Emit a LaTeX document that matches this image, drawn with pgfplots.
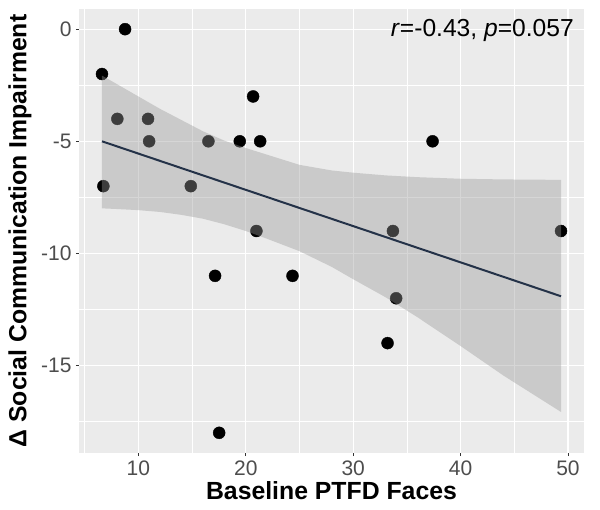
\documentclass[border=0pt]{standalone}
\usepackage{fontspec}
\setmainfont{Liberation Sans}
\usepackage{pgfplots}
\pgfplotsset{compat=1.18}

\definecolor{panelbg}{HTML}{EBEBEB}
\definecolor{tickgrey}{HTML}{333333}
\definecolor{labgrey}{HTML}{4D4D4D}
\definecolor{fitline}{HTML}{243248}

\begin{document}
\begin{tikzpicture}
\useasboundingbox (-79pt,-56pt) rectangle (521pt,453pt);
\begin{axis}[
  scale only axis,
  width=505pt, height=444pt,
  xmin=4.47, xmax=51.49,
  ymin=-18.9, ymax=0.9,
  axis background/.style={fill=panelbg},
  axis line style={draw=none},
  xtick={10,20,30,40,50},
  ytick={-15,-10,-5,0},
  minor xtick={5,15,25,35,45},
  minor ytick={-17.5,-12.5,-7.5,-2.5},
  grid=both,
  major grid style={white, line width=1.1pt},
  minor grid style={white, line width=0.55pt},
  xtick pos=bottom, ytick pos=left,
  tick align=outside,
  major tick length=3pt, minor tick length=0pt,
  tick style={tickgrey, line width=0.6pt},
  /pgf/number format/assume math mode=true,
  ticklabel style={font=\fontsize{21}{24}\selectfont, text=labgrey},
  xticklabel style={yshift=-1pt},
  yticklabel style={xshift=-1pt},
  xlabel={Baseline PTFD Faces},
  ylabel={Δ Social Communication Impairment},
  every axis x label/.style={at={(axis description cs:0.5,0)}, yshift=-38pt,
    anchor=center, font=\fontsize{24.8}{28}\selectfont\bfseries},
  every axis y label/.style={at={(axis description cs:0,0.5)}, xshift=-59pt,
    rotate=90, anchor=center, font=\fontsize{24.8}{28}\selectfont\bfseries},
  clip mode=individual,
]
% observations
\addplot[only marks, mark=*, mark size=6pt, mark options={fill=black, draw=none}] coordinates {
  (8.76,0) (6.61,-2) (8.04,-4) (10.9,-4) (11.0,-5) (16.52,-5) (19.44,-5)
  (21.34,-5) (20.68,-3) (6.74,-7) (14.88,-7) (20.99,-9) (17.14,-11)
  (24.35,-11) (17.52,-18) (37.39,-5) (33.7,-9) (34.0,-12) (33.2,-14)
  (49.35,-9)
};
% confidence band (upper edge, then lower edge back)
\addplot[draw=none, fill=gray!80, fill opacity=0.4] coordinates {
  (6.61,-2.07) (8,-2.45) (10,-3.0) (12,-3.55) (14,-4.05) (16,-4.55)
  (18,-4.97) (20,-5.3) (22,-5.6) (25,-6.05) (28,-6.3) (30,-6.4)
  (33,-6.52) (36,-6.6) (40,-6.67) (44,-6.7) (49.35,-6.72)
  (49.35,-17.07) (44,-15.45) (40,-14.13) (36,-12.85) (33,-11.95)
  (30,-11.15) (28,-10.6) (25,-9.9) (22,-9.35) (20,-9.0) (18,-8.7)
  (16,-8.45) (14,-8.28) (12,-8.15) (10,-8.07) (8,-8.02) (6.61,-7.99)
};
% linear fit
\addplot[fitline, line width=2pt] coordinates {(6.61,-5.0) (49.35,-11.91)};
\node[anchor=east, font=\fontsize{24.6}{28}\selectfont, inner sep=0pt]
  at (axis cs:50.55,-0.05) {\textit{r}=-0.43, \textit{p}=0.057};
\end{axis}
\end{tikzpicture}
\end{document}
